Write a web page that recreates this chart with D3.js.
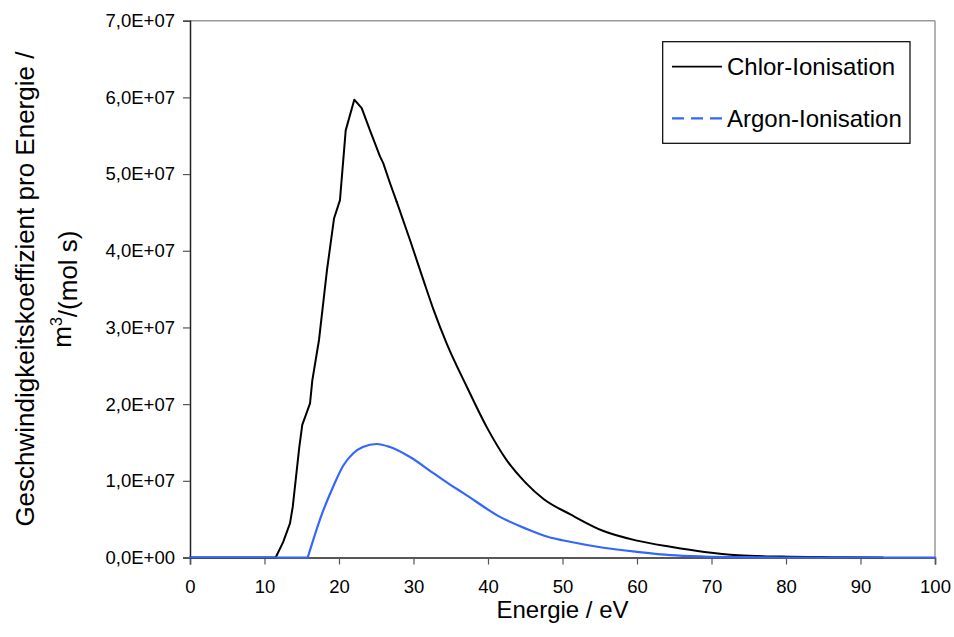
<!DOCTYPE html>
<html>
<head>
<meta charset="utf-8">
<script src="https://cdn.jsdelivr.net/npm/d3@7"></script>
<style>
  html, body { margin: 0; padding: 0; background: #fff; }
  svg { display: block; font-family: "Liberation Sans", Arial, sans-serif; }
</style>
</head>
<body>
<svg id="chart" width="954" height="637"></svg>
<script>
// ---- Data ----
const chlorEnergy = [0, 11.5, 12.5, 13.42, 13.79, 14.67, 15.07, 16.11, 16.42, 17.32, 18.39, 19.33, 20.13, 20.9, 22.05, 23.05, 24.16, 25.5, 25.95, 26.85, 27.74, 29.53, 31.32, 32.66, 34.46, 37.14, 39.83, 42.5, 45, 47.5, 51.0, 55.5, 60.0, 64.5, 69.05, 73.6, 79.4, 86, 93];
const chlorRate   = [0, 0, 0.2, 0.446, 0.66, 1.44, 1.73, 2.01, 2.31, 2.84, 3.75, 4.42, 4.66, 5.57, 5.97, 5.86, 5.57, 5.23, 5.14, 4.88, 4.64, 4.14, 3.62, 3.24, 2.79, 2.23, 1.70, 1.27, 0.98, 0.76, 0.565, 0.345, 0.22, 0.14, 0.073, 0.03, 0.012, 0.004, 0].map(v => v * 1e7);

const argonEnergy = [0, 15.8, 17.68, 19.24, 20.58, 21.92, 23.2, 25.06, 26.85, 29.53, 32.66, 34.9, 36.7, 41.6, 45, 48, 51.0, 55.5, 60.0, 64.5, 69.05, 74, 79.4, 90, 100];
const argonRate   = [0, 0, 0.56, 0.93, 1.2, 1.36, 1.44, 1.48, 1.44, 1.31, 1.10, 0.95, 0.84, 0.53, 0.38, 0.27, 0.205, 0.127, 0.073, 0.03, 0.012, 0.004, 0, 0, 0].map(v => v * 1e7);

const xTicks = [0, 10, 20, 30, 40, 50, 60, 70, 80, 90, 100];
const yTicks = [0, 1e7, 2e7, 3e7, 4e7, 5e7, 6e7, 7e7];
const seriesNames = ["Chlor-Ionisation", "Argon-Ionisation"];
const seriesColors = ["#000000", "#3366FF"];
const xTitle = "Energie / eV";
const yTitleLine1 = "Geschwindigkeitskoeffizient pro Energie /";

// ---- Layout ----
const plotLeft = 190, plotRight = 935, plotTop = 20.7, plotBottom = 557.5;
const svg = d3.select("#chart");

const x = d3.scaleLinear().domain([0, 100]).range([plotLeft, plotRight]);
const y = d3.scaleLinear().domain([0, 7e7]).range([plotBottom, plotTop]);

const fmtY = d => d === 0 ? "0,0E+00" : (d / 1e7).toFixed(1).replace(".", ",") + "E+07";

// Plot area border (top and right in gray)
svg.append("line").attr("x1", plotLeft).attr("x2", plotRight).attr("y1", plotTop).attr("y2", plotTop)
  .attr("stroke", "#999").attr("stroke-width", 1.5);
svg.append("line").attr("x1", plotRight).attr("x2", plotRight).attr("y1", plotTop).attr("y2", plotBottom)
  .attr("stroke", "#999").attr("stroke-width", 1.5);

// Axes
const xAxis = svg.append("g").attr("transform", `translate(0,${plotBottom})`)
  .call(d3.axisBottom(x).tickValues(xTicks).tickSize(7).tickPadding(15).tickFormat(d3.format("d")));
const yAxis = svg.append("g").attr("transform", `translate(${plotLeft},0)`)
  .call(d3.axisLeft(y).tickValues(yTicks).tickSize(7).tickPadding(8).tickFormat(fmtY));

[xAxis, yAxis].forEach(g => {
  g.select(".domain").attr("stroke", "#222").attr("stroke-width", 1.5);
  g.selectAll(".tick line").attr("stroke", "#555").attr("stroke-width", 1.2);
  g.selectAll(".tick text").attr("fill", "#000").style("font-size", "18.5px")
    .style("font-family", "'Liberation Sans', Arial, sans-serif");
});

// Lines
const chlorData = chlorEnergy.map((e, i) => [e, chlorRate[i]]);
const argonData = argonEnergy.map((e, i) => [e, argonRate[i]]);
const splitE = 27.74;   // chlor: straight segments on the rise, smooth decay
const argonStart = 15.8;

const lineLin = d3.line().x(d => x(d[0])).y(d => y(d[1])).curve(d3.curveLinear);
const lineSmooth = d3.line().x(d => x(d[0])).y(d => y(d[1])).curve(d3.curveMonotoneX);

const chlorG = svg.append("g").attr("fill", "none").attr("stroke", seriesColors[0])
  .attr("stroke-width", 2).attr("stroke-linejoin", "round").attr("stroke-linecap", "round");
chlorG.append("path").attr("d", lineLin(chlorData.filter(d => d[0] <= splitE)));
chlorG.append("path").attr("d", lineSmooth(chlorData.filter(d => d[0] >= splitE)));

const argonG = svg.append("g").attr("fill", "none").attr("stroke", seriesColors[1])
  .attr("stroke-width", 2.2).attr("stroke-linejoin", "round").attr("stroke-linecap", "round");
argonG.append("path").attr("d", lineLin(argonData.filter(d => d[0] <= argonStart)));
argonG.append("path").attr("d", lineSmooth(argonData.filter(d => d[0] >= argonStart)));

// Axis titles
svg.append("text").attr("x", (plotLeft + plotRight) / 2).attr("y", 618)
  .attr("text-anchor", "middle").style("font-size", "24px").text(xTitle);

const cy = (plotTop + plotBottom) / 2;
svg.append("text").attr("transform", `translate(34,${cy}) rotate(-90)`)
  .attr("text-anchor", "middle").style("font-size", "26px").text(yTitleLine1);
const t2 = svg.append("text").attr("transform", `translate(71,${cy}) rotate(-90)`)
  .attr("text-anchor", "middle").style("font-size", "26px");
t2.append("tspan").text("m");
t2.append("tspan").attr("dy", "-0.55em").style("font-size", "16px").text("3");
t2.append("tspan").attr("dy", "0.55em").text("/(mol s)");

// Legend
const lg = svg.append("g");
lg.append("rect").attr("x", 662.7).attr("y", 41.7).attr("width", 247.3).attr("height", 101.6)
  .attr("fill", "#fff").attr("stroke", "#000").attr("stroke-width", 1.2);
const legendY = [66.7, 118.3];
seriesNames.forEach((name, i) => {
  lg.append("line").attr("x1", 672).attr("x2", 722).attr("y1", legendY[i]).attr("y2", legendY[i])
    .attr("stroke", seriesColors[i]).attr("stroke-width", i === 0 ? 1.8 : 2.2)
    .attr("stroke-dasharray", i === 1 ? "12,7" : null);
  lg.append("text").attr("x", 727).attr("y", legendY[i] + 8.5)
    .style("font-size", "24px").text(name);
});
</script>
</body>
</html>
